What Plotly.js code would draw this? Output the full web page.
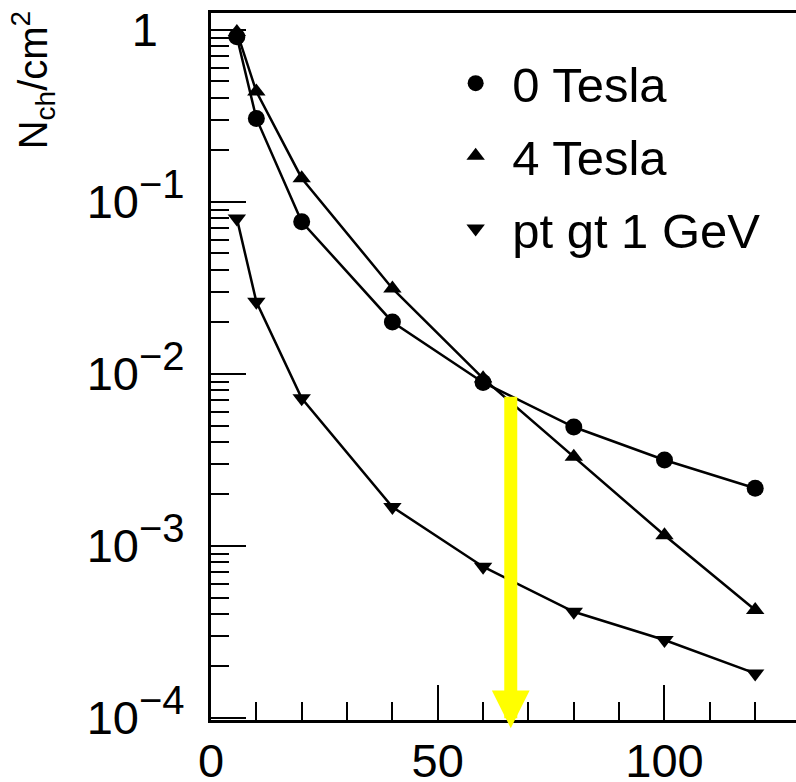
<!DOCTYPE html>
<html><head><meta charset="utf-8">
<script src="https://cdn.plot.ly/plotly-3.0.1.min.js"></script>
<style>html,body{margin:0;padding:0;background:#fff}#chart{width:796px;height:782px}</style>
</head><body><div id="chart"></div>
<script>
// ---- data ----
const radius = [5.7, 10, 20, 40, 60, 80, 100, 120];
const tesla0 = [0.91, 0.305, 0.0765, 0.020, 0.0089, 0.0049, 0.00315, 0.00216];
const tesla4 = [0.97, 0.437, 0.137, 0.0313, 0.0094, 0.00329, 0.00115, 0.000423];
const ptGt1  = [0.080, 0.0262, 0.0072, 0.00168, 0.000755, 0.000413, 0.000283, 0.000181];
const seriesNames = ['0 Tesla', '4 Tesla', 'pt gt 1 GeV'];
const seriesSymbols = ['circle', 'triangle-up', 'triangle-down'];
const xTickVals = [0, 50, 100];
const xTickText = ['0', '50', '100'];
const yTickVals = [1e-4, 1e-3, 1e-2, 1e-1, 1];
const yExponents = ['\u22124', '\u22123', '\u22122', '\u22121', null];
const arrowX = 66.1, arrowTailY = 0.0075, arrowTipY = 8.7e-5;
const yTitle = 'N<sub>ch</sub>/cm<sup>2</sup>';

const FONT = 'Liberation Sans, Arial, sans-serif';
const allSeries = [tesla0, tesla4, ptGt1];
const markerSizes = [17, 16, 16];

const supSpan = t => '<sup><span style="font-size:40px">' + t + '</span></sup>';
const padSpan = '<span style="font-size:24px;color:rgba(0,0,0,0)">00</span>';
const yTickText = yExponents.map(e => e === null ? '1' + padSpan : '10' + supSpan(e));

const traces = [];
allSeries.forEach((ys, i) => {
  traces.push({x: radius, y: ys, type: 'scatter', mode: 'lines', showlegend: false,
    line: {color: '#000', width: 2.5}, hoverinfo: 'skip'});
});
allSeries.forEach((ys, i) => {
  traces.push({x: radius, y: ys, type: 'scatter', mode: 'markers', name: seriesNames[i],
    legendgroup: 'g' + i,
    marker: {symbol: seriesSymbols[i], size: markerSizes[i], color: '#000'}});
});

// minor log ticks 2..9 per decade
const yMinor = [];
for (let e = -4; e <= 0; e++) for (let m = 2; m <= 9; m++) yMinor.push(m * Math.pow(10, e));

const layout = {
  width: 796, height: 782,
  margin: {l: 211, r: 0, t: 13, b: 62, pad: 0},
  paper_bgcolor: '#fff', plot_bgcolor: '#fff',
  font: {family: FONT, color: '#000', size: 47},
  showlegend: true,
  legend: {x: 0.39, xanchor: 'left', y: 0.955, yanchor: 'top', bgcolor: 'rgba(0,0,0,0)',
    borderwidth: 0, font: {family: FONT, size: 49, color: '#000'}, tracegroupgap: 6,
    traceorder: 'grouped', itemwidth: 63},
  xaxis: {type: 'linear', range: [0, 129.0], showgrid: false, zeroline: false,
    showline: true, linewidth: 3, linecolor: '#000', mirror: true,
    ticks: 'inside', ticklen: 35, tickwidth: 2, tickcolor: '#000',
    tickmode: 'array', tickvals: xTickVals, ticktext: xTickText,
    ticklabelstandoff: -2, ticklabeloverflow: 'allow',
    tickfont: {family: FONT, size: 47, color: '#000'},
    minor: {ticks: 'inside', ticklen: 18, tickwidth: 2, tickcolor: '#000', dtick: 10, showgrid: false}},
  yaxis: {type: 'log', range: [-4.013, 0.097], showgrid: false, zeroline: false,
    showline: true, linewidth: 3, linecolor: '#000', mirror: false,
    ticks: 'inside', ticklen: 35, tickwidth: 2, tickcolor: '#000',
    tickmode: 'array', tickvals: yTickVals, ticktext: yTickText,
    ticklabelstandoff: 14, ticklabeloverflow: 'allow',
    tickfont: {family: FONT, size: 47, color: '#000'},
    minor: {ticks: 'inside', ticklen: 18, tickwidth: 2, tickcolor: '#000', tickmode: 'array', tickvals: yMinor, showgrid: false}},
  annotations: [
    {xref: 'x', yref: 'y', x: arrowX, y: Math.log10(arrowTipY),
     axref: 'x', ayref: 'y', ax: arrowX, ay: Math.log10(arrowTailY),
     text: '', showarrow: true, arrowcolor: '#ffff00', arrowwidth: 13, arrowhead: 2, arrowsize: 0.58, standoff: 0},
    {xref: 'paper', yref: 'paper', x: -0.304, y: 0.905, text: yTitle, textangle: -90,
     showarrow: false, xanchor: 'center', yanchor: 'middle', font: {family: FONT, size: 40, color: '#000'}}
  ]
};

Plotly.newPlot('chart', traces, layout, {displayModeBar: false, staticPlot: true});
</script></body></html>
